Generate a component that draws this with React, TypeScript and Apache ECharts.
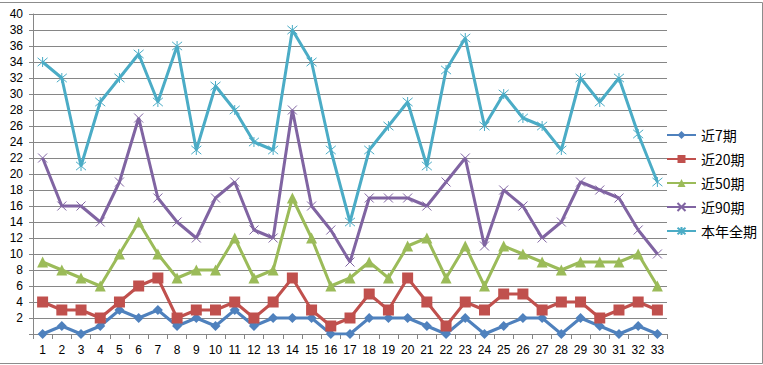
import React, { useEffect, useRef } from "react";
import * as echarts from "echarts";

const categories = Array.from({ length: 33 }, (_, i) => String(i + 1));

const seriesNames = ["近7期", "近20期", "近50期", "近90期", "本年全期"];

const recent7 = [0, 1, 0, 1, 3, 2, 3, 1, 2, 1, 3, 1, 2, 2, 2, 0, 0, 2, 2, 2, 1, 0, 2, 0, 1, 2, 2, 0, 2, 1, 0, 1, 0];
const recent20 = [4, 3, 3, 2, 4, 6, 7, 2, 3, 3, 4, 2, 4, 7, 3, 1, 2, 5, 3, 7, 4, 1, 4, 3, 5, 5, 3, 4, 4, 2, 3, 4, 3];
const recent50 = [9, 8, 7, 6, 10, 14, 10, 7, 8, 8, 12, 7, 8, 17, 12, 6, 7, 9, 7, 11, 12, 7, 11, 6, 11, 10, 9, 8, 9, 9, 9, 10, 6];
const recent90 = [22, 16, 16, 14, 19, 27, 17, 14, 12, 17, 19, 13, 12, 28, 16, 13, 9, 17, 17, 17, 16, 19, 22, 11, 18, 16, 12, 14, 19, 18, 17, 13, 10];
const fullYear = [34, 32, 21, 29, 32, 35, 29, 36, 23, 31, 28, 24, 23, 38, 34, 23, 14, 23, 26, 29, 21, 33, 37, 26, 30, 27, 26, 23, 32, 29, 32, 25, 19];

const colors = ["#4F81BD", "#C0504D", "#9BBB59", "#8064A2", "#4BACC6"];

const X_SYMBOL = "path://M0,0L10,10M10,0L0,10";
const STAR_SYMBOL = "path://M0,0L10,10M10,0L0,10M5,-1L5,11";

export default function App() {
  const ref = useRef<HTMLDivElement>(null);
  useEffect(() => {
    document.body.style.margin = "0";
    const chart = echarts.init(ref.current!, null, { renderer: "svg" });
    const datasets = [recent7, recent20, recent50, recent90, fullYear];
    const symbols = ["diamond", "rect", "triangle", X_SYMBOL, STAR_SYMBOL];
    const sizes = [10, 11, 11, 9, 10];
    const series = datasets.map((d, i) => {
      const stroked = i >= 3;
      return {
        name: seriesNames[i],
        type: "line",
        data: d,
        symbol: symbols[i],
        symbolSize: sizes[i],
        showSymbol: true,
        lineStyle: { width: 3, color: colors[i] },
        itemStyle: stroked
          ? { color: "rgba(0,0,0,0)", borderColor: colors[i], borderWidth: 1 }
          : { color: colors[i], borderWidth: 0 },
        emphasis: { disabled: true },
        z: 2 + i,
      };
    });
    chart.setOption({
      animation: false,
      grid: { left: 33, right: 96, top: 14, bottom: 31, containLabel: false },
      legend: {
        orient: "vertical",
        left: 661,
        top: 123,
        itemWidth: 29,
        itemHeight: 10,
        itemGap: 10,
        textStyle: { fontSize: 14, color: "#000", fontFamily: "Noto Sans CJK SC" },
        data: seriesNames,
      },
      xAxis: {
        type: "category",
        data: categories,
        boundaryGap: true,
        axisLine: { show: true, lineStyle: { color: "#868686", width: 1 } },
        axisTick: { show: true, length: 5, lineStyle: { color: "#868686" } },
        axisLabel: { color: "#000", fontSize: 12, fontFamily: "Liberation Sans", margin: 10 },
        splitLine: { show: false },
      },
      yAxis: {
        type: "value",
        min: 0,
        max: 40,
        interval: 2,
        axisLine: { show: true, lineStyle: { color: "#868686", width: 1 } },
        axisTick: { show: true, length: 4, lineStyle: { color: "#868686" } },
        axisLabel: {
          color: "#000",
          fontSize: 12,
          fontFamily: "Liberation Sans",
          margin: 10,
          formatter: (v: number) => (v === 0 ? "" : String(v)),
        },
        splitLine: { show: true, lineStyle: { color: "#868686", width: 1 } },
      },
      graphic: [
        {
          type: "polyline",
          shape: { points: [[0, 2.5], [762.5, 2.5], [762.5, 363.5], [0, 363.5]] },
          style: { stroke: "#8c8c8c", fill: "none", lineWidth: 1 },
          silent: true,
        },
      ],
      series,
    });
    return () => chart.dispose();
  }, []);
  return <div ref={ref} style={{ position: "absolute", left: 0, top: 0, width: 763, height: 365 }} />;
}
